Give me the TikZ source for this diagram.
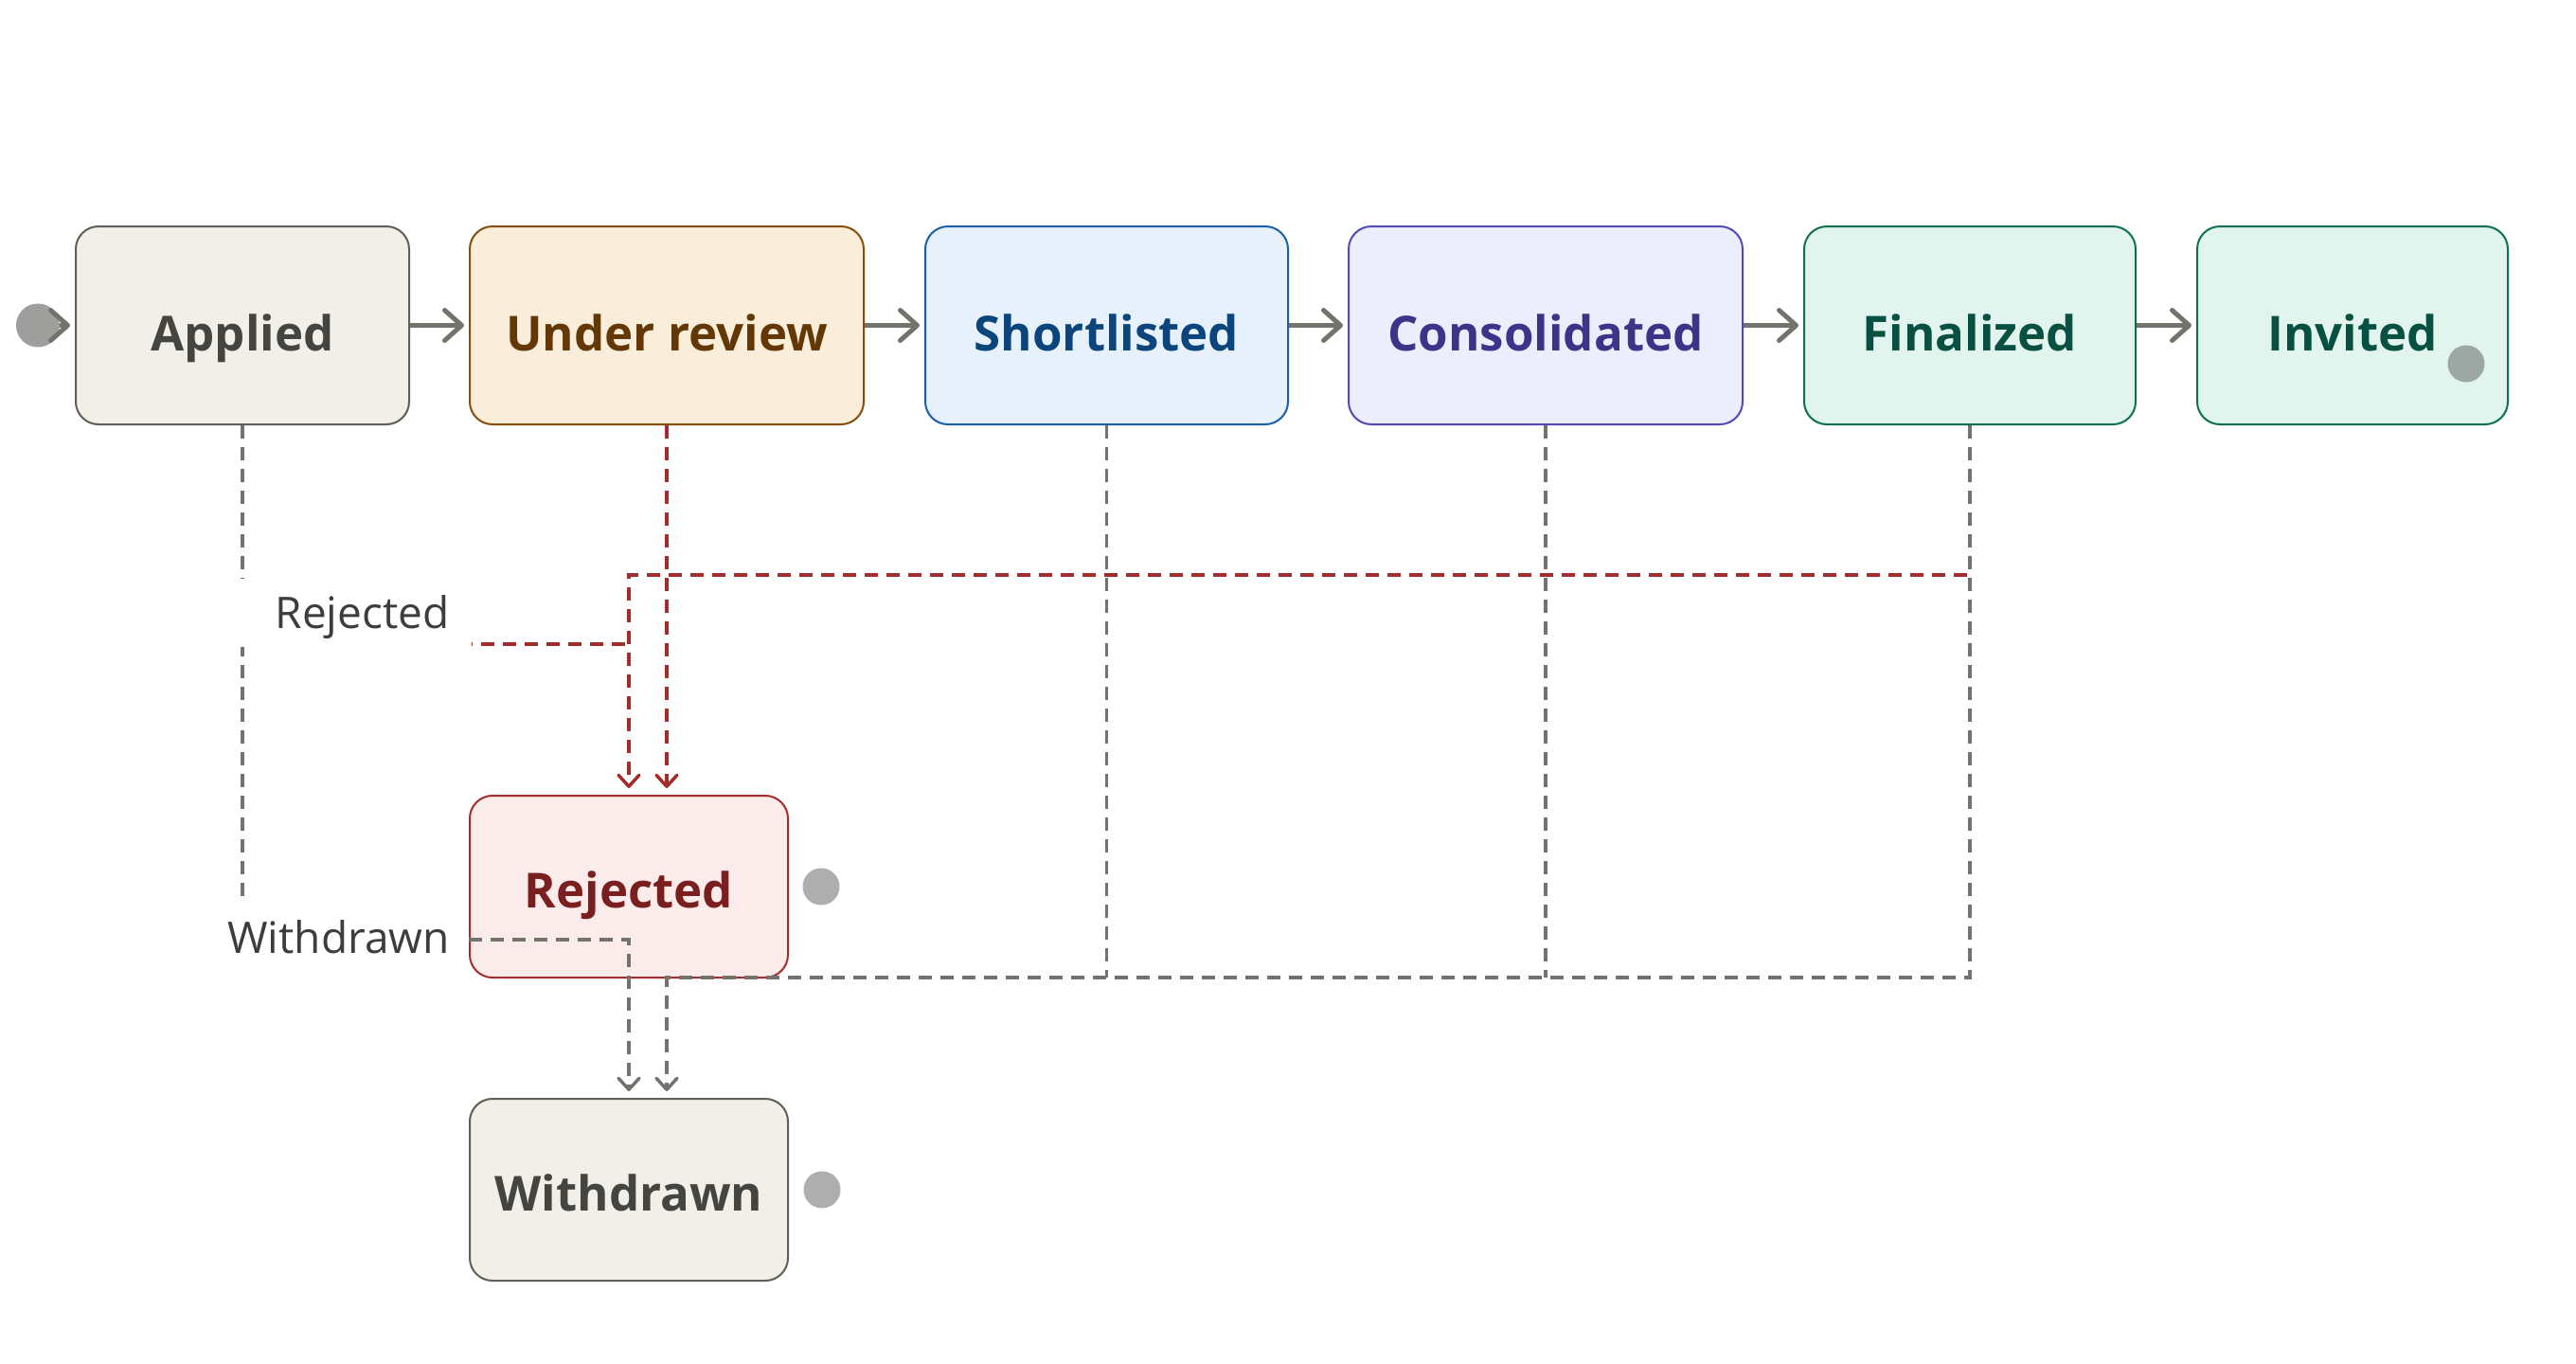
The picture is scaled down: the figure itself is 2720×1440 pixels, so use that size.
\documentclass[tikz,border=0pt]{standalone}
\usepackage{fontspec}
\setmainfont{Open Sans}
\usetikzlibrary{arrows.meta}
\definecolor{apfill}{HTML}{F1EFE8}\definecolor{apdraw}{HTML}{5F5E5A}\definecolor{aptext}{HTML}{444441}
\definecolor{urfill}{HTML}{FAEEDA}\definecolor{urdraw}{HTML}{854F0B}\definecolor{urtext}{HTML}{633806}
\definecolor{slfill}{HTML}{E6F1FB}\definecolor{sldraw}{HTML}{185FA5}\definecolor{sltext}{HTML}{0C447C}
\definecolor{cofill}{HTML}{EEEDFE}\definecolor{codraw}{HTML}{534AB7}\definecolor{cotext}{HTML}{3C3489}
\definecolor{fifill}{HTML}{E1F5EE}\definecolor{fidraw}{HTML}{0F6E56}\definecolor{fitext}{HTML}{085041}
\definecolor{rjfill}{HTML}{FCEBEB}\definecolor{rjdraw}{HTML}{A32D2D}\definecolor{rjtext}{HTML}{791F1F}
\definecolor{gline}{HTML}{73726C}
\definecolor{rline}{HTML}{A32D2D}
\definecolor{lbltext}{HTML}{3D3D3A}
\definecolor{initc}{HTML}{9E9E9C}
\tikzset{
  state/.style={draw, rounded corners=12pt, line width=1pt, inner sep=0pt,
    font=\fontsize{25.5}{30}\selectfont\bfseries, text depth=0pt},
  toprow/.style={state, minimum height=104.5pt, text height=26.6pt},
  lowrow/.style={state, minimum height=96pt, minimum width=168pt, text height=22.6pt},
  flow/.style={draw=gline, line width=2.5pt, shorten >=2.5pt, -{Straight Barb[length=9pt,width=16pt,round]}},
  dgray/.style={draw=gline, line width=1.75pt, dash pattern=on 7pt off 4.5pt},
  dred/.style={draw=rline, line width=1.75pt, dash pattern=on 7pt off 4.5pt},
  dtip/.style={shorten >=3.5pt, -{Straight Barb[length=6pt,width=11pt,round]}},
  lbl/.style={fill=white, inner sep=0pt, text=lbltext, font=\fontsize{23}{28}\selectfont, text height=16.5pt, text depth=0pt},
  enddot/.style={circle, fill=black!70, fill opacity=.45, inner sep=0pt, minimum size=19.5pt}
}
\begin{document}
\begin{tikzpicture}[x=0.5pt,y=-0.5pt]
\useasboundingbox (0,0) rectangle (2720,1440);
% states
\node[toprow, fill=apfill, draw=apdraw, text=aptext, minimum width=176pt] (applied) at (256,343.5) {Applied};
\node[toprow, fill=urfill, draw=urdraw, text=urtext, minimum width=208pt] (review) at (704,343.5) {Under review};
\node[toprow, fill=slfill, draw=sldraw, text=sltext, minimum width=191.5pt] (short) at (1168.5,343.5) {Shortlisted};
\node[toprow, fill=cofill, draw=codraw, text=cotext, minimum width=208pt] (cons) at (1632,343.5) {Consolidated};
\node[toprow, fill=fifill, draw=fidraw, text=fitext, minimum width=175pt] (final) at (2080,343.5) {Finalized};
\node[toprow, fill=fifill, draw=fidraw, text=fitext, minimum width=164pt] (invited) at (2484,343.5) {Invited};
\node[lowrow, fill=rjfill, draw=rjdraw, text=rjtext] (rejected) at (664,936) {Rejected};
\node[lowrow, fill=apfill, draw=apdraw, text=aptext] (withdrawn) at (664,1256) {Withdrawn};
% initial and final markers
\node[circle, fill=initc, inner sep=0pt, minimum size=23pt] (init) at (40,343.5) {};
\node[enddot] (invend) at (2604,384) {};
\node[enddot] (rejend) at (867,936) {};
\node[enddot] (wdend) at (868,1256) {};
% main flow
\draw[flow] (init.east) -- (applied.west);
\draw[flow] (applied.east) -- (review.west);
\draw[flow] (review.east) -- (short.west);
\draw[flow] (short.east) -- (cons.west);
\draw[flow] (cons.east) -- (final.west);
\draw[flow] (final.east) -- (invited.west);
% merge points
\coordinate (ra) at (664,680);
\coordinate (rb) at (664,607);
\coordinate (wa) at (664,992);
\coordinate (wb) at (704,1032);
% rejected transitions
\draw[dred] (applied.south) |- (ra);
\draw[dred] (short.south) -- (short.south |- rb);
\draw[dred] (cons.south) -- (cons.south |- rb);
\draw[dred,dtip] (final.south) |- (rb) -- (rejected.north);
\draw[dred,dtip] (review.south) -- (review.south |- rejected.north);
% withdrawn transitions
\draw[dgray] (short.south) -- (short.south |- wb);
\draw[dgray] (cons.south) -- (cons.south |- wb);
\draw[dgray,dtip] (final.south) |- (wb) -- (wb |- withdrawn.north);
\draw[dgray,dtip] (applied.south) |- (wa) -- (withdrawn.north);
% labels
\node[lbl, minimum width=123.5pt, minimum height=36pt] (lrej) at (374.5,647) {\hspace*{8pt}Rejected};
\node[lbl, minimum width=139.5pt, minimum height=39pt] (lwd) at (354.5,990) {\hspace*{3pt}Withdrawn};
\end{tikzpicture}
\end{document}
